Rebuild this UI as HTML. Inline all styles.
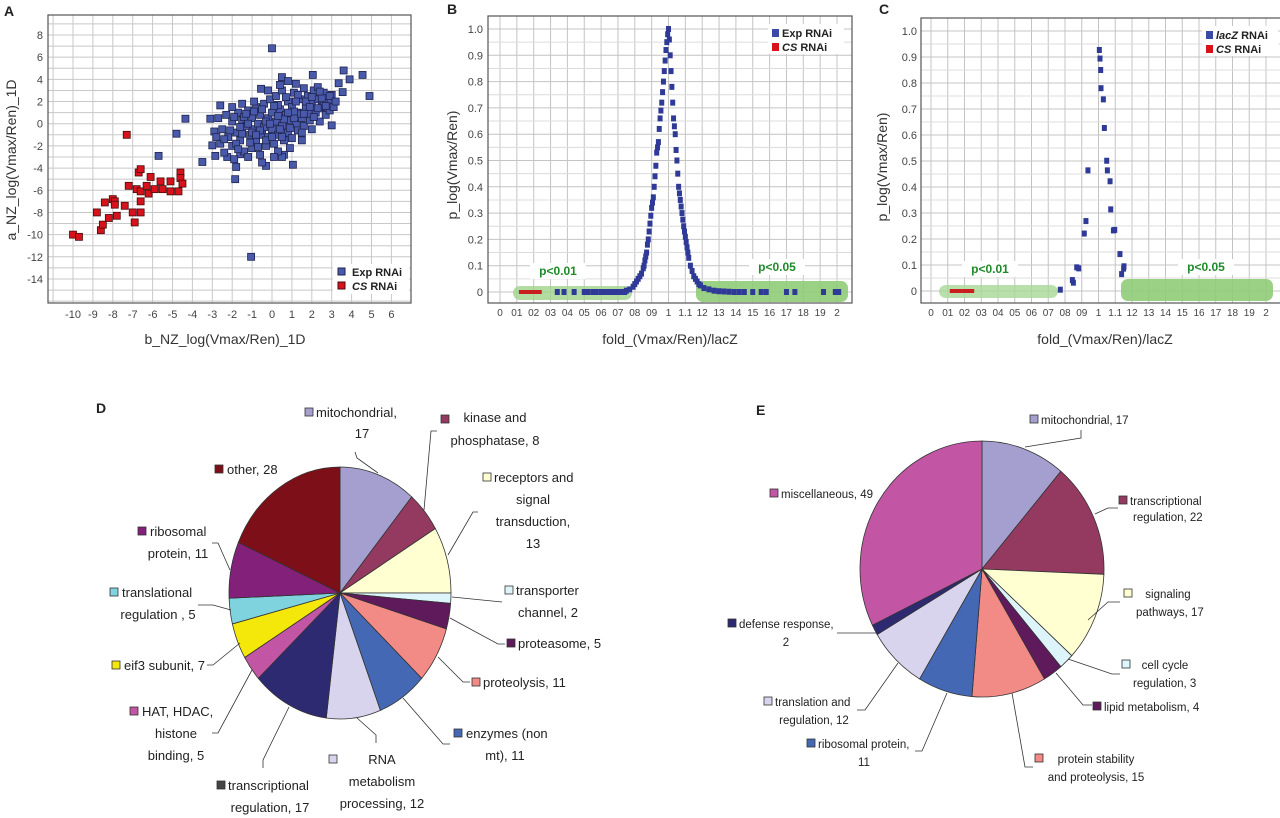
<!DOCTYPE html>
<html><head><meta charset="utf-8"><style>
html,body{margin:0;padding:0;background:#fff;}
svg{display:block;font-family:"Liberation Sans",Arial,sans-serif;}
.tk{font-size:11px;fill:#444;}
.tks{font-size:10px;fill:#444;}
.ttl{font-size:14px;fill:#333;}
.pl{font-size:14px;font-weight:bold;fill:#222;}
.lb{font-size:13px;fill:#222;}
.lbe{font-size:11.5px;fill:#222;}
.lg{font-size:11px;font-weight:bold;fill:#222;}
</style></head><body>
<svg id="fig" width="1280" height="818" viewBox="0 0 1280 818">
<g id="gA"></g>
<g id="gB"></g>
<g id="gC"></g>
<g id="gD"></g>
<g id="gE"></g>
</svg>
<script>
// ---------- Panel A data ----------
const aRedX=[-10,-9.7,-8.8,-8.6,-8.5,-8.4,-8.2,-8.0,-7.9,-7.9,-7.8,-7.4,-7.3,-7.2,-7.0,-6.9,-6.8,-6.7,-6.6,-6.6,-6.6,-6.6,-6.3,-6.2,-6.1,-5.9,-5.6,-5.5,-5.1,-5.1,-4.7,-4.6,-4.6,-4.5];
const aRedY=[-10,-10.2,-8,-9.6,-9.1,-7.1,-8.5,-6.8,-7.0,-7.3,-8.3,-7.4,-1.0,-5.6,-8.0,-8.9,-5.9,-4.4,-4.1,-6.1,-8.0,-7.0,-5.6,-6.3,-4.8,-5.9,-5.2,-5.9,-5.2,-6.1,-6.1,-4.4,-4.9,-5.4];
const aBluePts=[[0.0,6.8],[-1.05,-12],[-4.35,0.45],[-4.8,-0.9],[-5.7,-2.9],[-3.5,-3.45],[-1.85,-5.0],[-1.8,-3.9],[1.05,-3.7],[0.6,-2.8],[0.5,-3.0],[-0.3,-3.8],[4.9,2.5],[4.55,4.4],[3.6,4.8],[3.9,4.0],[3.35,3.65],[3.55,2.85],[3.0,-0.15],[2.05,4.4],[0.5,4.2],[0.8,3.85],[-0.55,3.15],[-3.1,0.45],[-2.6,1.65],[-2.85,-2.9],[-3.0,-1.95],[-2.25,-3.0],[-1.6,-2.75],
[-2.5,-0.5],[-2.3,0.8],[-2.2,-1.2],[-2.0,-2.0],[-2.0,0.2],[-1.8,-0.8],[-1.7,1.0],[-1.6,-1.5],[-1.5,0.3],[-1.4,-2.5],[-1.3,-0.2],[-1.2,1.2],[-1.1,-1.0],[-1.0,0.5],[-1.0,-2.2],[-0.9,-0.5],[-0.8,1.5],[-0.8,-1.5],[-0.7,0.0],[-0.6,-2.8],[-0.6,0.8],[-0.5,-1.0],[-0.4,1.8],[-0.4,-0.3],[-0.3,-2.0],[-0.2,0.5],[-0.2,-1.2],[-0.1,2.2],[0.0,-0.5],[0.0,1.0],[0.1,-1.8],[0.2,0.2],[0.2,2.5],[0.3,-1.0],[0.4,1.3],[0.5,-0.2],[0.5,3.0],[0.6,-1.5],[0.7,0.8],[0.8,2.0],[0.8,-0.8],[0.9,0.3],[1.0,1.5],[1.0,-1.3],[1.1,2.8],[1.2,0.0],[1.3,1.0],[1.3,-0.6],[1.4,2.2],[1.5,0.5],[1.6,3.2],[1.6,-0.2],[1.7,1.4],[1.8,2.5],[1.9,0.3],[2.0,1.8],[2.0,-0.5],[2.1,3.0],[2.2,1.0],[2.3,2.2],[2.4,0.2],[2.5,1.5],[2.6,2.8],[2.7,0.8],[2.8,2.0],[2.9,1.2],[3.0,2.6],[3.1,1.5],[-2.6,-1.8],[-2.4,-2.6],[-2.7,0.5],[-1.9,-3.2],[-1.2,-3.0],[-0.5,-3.5],[0.3,-2.5],[0.9,-2.2],[1.5,-1.5],[-1.5,1.8],[-0.9,2.0],[-0.2,3.0],[0.4,3.5],[1.2,3.6],[-2.0,1.5],[2.3,3.3],[-1.0,-0.8],[-0.3,0.2],[0.6,0.4],[1.4,0.9],[-1.8,-1.8],[0.1,-3.0],[-2.9,-0.7],[-2.8,-1.2],[1.8,0.9],[2.6,1.9],[-0.6,-0.6],[0.3,1.7],[-1.4,0.6],[1.1,0.5],
[-2.4,-1.4],[-2.1,-0.6],[-1.9,0.6],[-1.7,-2.3],[-1.5,-0.9],[-1.3,0.9],[-1.1,-1.7],[-0.9,1.1],[-0.7,-2.1],[-0.5,1.3],[-0.3,-1.5],[-0.1,0.0],[0.1,1.6],[0.3,0.7],[0.5,-1.2],[0.7,2.4],[0.9,-0.4],[1.1,1.1],[1.3,2.6],[1.5,-0.8],[1.7,2.0],[1.9,1.5],[2.1,0.6],[2.3,1.4],[2.5,2.3],[2.7,1.6],[2.9,2.5],[3.2,2.0],[-1.6,-0.3],[-0.8,-1.0],[0.0,-1.2],[0.8,1.0],[1.6,0.9],[2.4,2.9],[-1.2,0.0],[0.4,-0.5],[1.2,2.0],[2.0,2.4]];
const aXTicks=[-10,-9,-8,-7,-6,-5,-4,-3,-2,-1,0,1,2,3,4,5,6];
const aYTicks=[8,6,4,2,0,-2,-4,-6,-8,-10,-12,-14];
// ---------- Panel B data ----------
const bBluePts=[[0.75,0.005],[0.77,0.01],[0.79,0.02],[0.8,0.03],[0.81,0.04],[0.82,0.05],[0.83,0.06],[0.84,0.07],[0.85,0.09],[0.855,0.1],[0.86,0.12],[0.865,0.135],[0.87,0.15],[0.875,0.18],[0.88,0.2],[0.885,0.23],[0.89,0.26],[0.895,0.29],[0.9,0.32],[0.905,0.34],[0.91,0.36],[0.915,0.4],[0.92,0.44],[0.925,0.48],[0.93,0.53],[0.935,0.55],[0.94,0.57],[0.945,0.62],[0.95,0.66],[0.955,0.69],[0.96,0.72],[0.965,0.76],[0.97,0.8],[0.975,0.84],[0.98,0.88],[0.985,0.92],[0.99,0.95],[0.995,0.98],[1.0,1.0],[1.005,0.96],[1.01,0.9],[1.015,0.84],[1.02,0.78],[1.025,0.72],[1.03,0.66],[1.035,0.63],[1.04,0.6],[1.045,0.54],[1.05,0.5],[1.055,0.45],[1.06,0.4],[1.065,0.375],[1.07,0.35],[1.075,0.325],[1.08,0.3],[1.085,0.275],[1.09,0.25],[1.095,0.23],[1.1,0.21],[1.105,0.19],[1.11,0.17],[1.115,0.15],[1.12,0.13],[1.13,0.1],[1.14,0.08],[1.15,0.06],[1.16,0.05],[1.17,0.04],[1.18,0.03],[1.19,0.025],[1.21,0.015],[1.24,0.01],[1.27,0.005],[1.3,0.003],[1.33,0.002],[1.36,0.001],[1.39,0],[1.42,0],[1.45,0],[1.5,0],[1.55,0],[1.58,0],[1.7,0],[1.75,0],[1.92,0],[1.99,0],[2.01,0],[0.34,0],[0.38,0],[0.44,0],[0.5,0],[0.52,0],[0.55,0],[0.57,0],[0.6,0],[0.62,0],[0.64,0],[0.66,0],[0.68,0],[0.7,0],[0.72,0],[0.74,0]];
const bRedX=[0.13,0.15,0.17,0.19,0.21,0.23];
// ---------- Panel C data ----------
const cBluePts=[[1.005,0.927],[1.009,0.894],[1.013,0.85],[1.015,0.78],[1.029,0.737],[1.035,0.627],[1.049,0.501],[1.053,0.464],[1.069,0.422],[1.073,0.314],[1.097,0.235],[1.089,0.233],[1.128,0.142],[1.150,0.086],[1.152,0.095],[1.138,0.065],[0.937,0.464],[0.925,0.269],[0.915,0.221],[0.870,0.091],[0.882,0.087],[0.844,0.042],[0.850,0.032],[0.772,0.005]];
const cRedX=[0.13,0.15,0.18,0.2,0.22,0.24];
const pYTicks=[1.0,0.9,0.8,0.7,0.6,0.5,0.4,0.3,0.2,0.1,0];
const pYLabels=["1.0","0.9","0.8","0.7","0.6","0.5","0.4","0.3","0.2","0.1","0"];
const pXTicks=[0,0.1,0.2,0.3,0.4,0.5,0.6,0.7,0.8,0.9,1,1.1,1.2,1.3,1.4,1.5,1.6,1.7,1.8,1.9,2];
const pXLabels=["0","01","02","03","04","05","06","07","08","09","1","1.1","12","13","14","15","16","17","18","19","2"];
// ---------- Panel D data ----------
const dNames=["mitochondrial","kinase and phosphatase","receptors and signal transduction","transporter channel","proteasome","proteolysis","enzymes (non mt)","RNA metabolism processing","transcriptional regulation","HAT, HDAC, histone binding","eif3 subunit","translational regulation","ribosomal protein","other"];
const dValues=[17,8,13,2,5,11,11,12,17,5,7,5,11,28];
const dColors=["#a59fcf","#943a60","#ffffd2","#ddf5fa","#5e1a5a","#f28a85","#4468b3","#d8d4ee","#2d2a72","#c256a4","#f4e70a","#7fd3df","#82207a","#7c0f18"];
// ---------- Panel E data ----------
const eNames=["mitochondrial","transcriptional regulation","signaling pathways","cell cycle regulation","lipid metabolism","protein stability and proteolysis","ribosomal protein","translation and regulation","defense response","miscellaneous"];
const eValues=[17,22,17,3,4,15,11,12,2,49];
const eColors=["#a59fcf","#943a60","#ffffd2","#ddf5fa","#5e1a5a","#f28a85","#4468b3","#d8d4ee","#2d2a72","#c256a4"];

const NS="http://www.w3.org/2000/svg";
function mk(parent,tag,attrs,txt){const e=document.createElementNS(NS,tag);for(const k in attrs)e.setAttribute(k,attrs[k]);if(txt!==undefined)e.textContent=txt;parent.appendChild(e);return e;}

// ===== Panel A =====
(function(){
const g=document.getElementById('gA');
const X0=48,X1=411,Y0=15,Y1=303;
const xA=v=>73+(v+10)*19.9, yA=v=>35+(8-v)*11.09;
let r=mk(g,'rect',{x:X0,y:Y0,width:X1-X0,height:Y1-Y0,fill:'#fff'});

for(let v=-11;v<=6;v++){const l=mk(g,'line',{x1:xA(v),x2:xA(v),y1:Y0,y2:Y1,stroke:'#c8c8c8'});}
for(let v=-16;v<=9;v++){const y=yA(v);if(y<Y0||y>Y1)continue;const l=mk(g,'line',{x1:X0,x2:X1,y1:y,y2:y,stroke:'#c8c8c8'});}
aXTicks.forEach(v=>{const t=mk(g,'text',{x:xA(v),y:318,class:'tk','text-anchor':'middle'},String(v));});
aYTicks.forEach(v=>{const t=mk(g,'text',{x:43,y:yA(v)+4,class:'tk','text-anchor':'end'},String(v));});
aBluePts.forEach(p=>{const m=mk(g,'rect',{x:xA(p[0])-3.5,y:yA(p[1])-3.5,width:7,height:7,fill:'#4a5aab',stroke:'#1e2350','stroke-width':0.8});});
aRedX.forEach((x,i)=>{const m=mk(g,'rect',{x:xA(x)-3.5,y:yA(aRedY[i])-3.5,width:7,height:7,fill:'#d8121c',stroke:'#4a0a0a','stroke-width':0.8});});
r=mk(g,'rect',{x:X0,y:Y0,width:X1-X0,height:Y1-Y0,fill:'none',stroke:'#555','stroke-width':1.2});

r=mk(g,'rect',{x:333,y:264,width:76,height:30,fill:'#fff'});
r=mk(g,'rect',{x:338,y:268,width:7,height:7,fill:'#4a5aab',stroke:'#1e2350'});
let t=mk(g,'text',{x:352,y:276,class:'lg'},'Exp RNAi');
r=mk(g,'rect',{x:338,y:282,width:7,height:7,fill:'#d8121c',stroke:'#4a0a0a'});
t=mk(g,'text',{x:352,y:290,class:'lg'});t.innerHTML='<tspan font-style="italic">CS</tspan> RNAi';
t=mk(g,'text',{x:225,y:344,class:'ttl','text-anchor':'middle'},'b_NZ_log(Vmax/Ren)_1D');
t=mk(g,'text',{x:0,y:0,class:'ttl','text-anchor':'middle',transform:'translate(16,160) rotate(-90)'},'a_NZ_log(Vmax/Ren)_1D');
t=mk(g,'text',{x:4,y:16,class:'pl'},'A');
})();

// ===== Panels B & C =====
function volcano(gid,X0,X1,Y0,Y1,x0,x2,y1,y0,pts,redX,legendX,legName,legItalic,bands,pLabels,letter,letterX,titleX,ytX,ytY,ylabX){
const g=document.getElementById(gid);
const xs=v=>x0+v*(x2-x0)/2, ys=v=>y0-v*(y0-y1);
let r=mk(g,'rect',{x:X0,y:Y0,width:X1-X0,height:Y1-Y0,fill:'#fff'});
for(let i=0;i<=20;i++){const x=xs(i/10);const l=mk(g,'line',{x1:x,x2:x,y1:Y0,y2:Y1,stroke:'#c4c4c4'});}
for(let i=0;i<=21;i++){const y=ys(i*0.05);if(y<Y0)continue;const l=mk(g,'line',{x1:X0,x2:X1,y1:y,y2:y,stroke:i%2?'#dcdcdc':'#c4c4c4'});}
bands.forEach(b=>{const m=mk(g,'rect',{x:b[0],y:b[1],width:b[2]-b[0],height:b[3]-b[1],rx:7,fill:b[4],opacity:b[5]});});
pLabels.forEach(p=>{const bg=mk(g,'rect',{x:p[0]-28,y:p[1]-12,width:56,height:16,fill:'#fff'});const t=mk(g,'text',{x:p[0],y:p[1],'text-anchor':'middle','font-size':'12','font-weight':'bold',fill:'#1f8a2a'},p[2]);});
pXTicks.forEach((v,i)=>{const t=mk(g,'text',{x:xs(v),y:Y1+13,class:'tks','text-anchor':'middle'},pXLabels[i]);});
pYTicks.forEach((v,i)=>{const t=mk(g,'text',{x:ylabX,y:ys(v)+4,class:'tk','text-anchor':'end'},pYLabels[i]);});
pts.forEach(p=>{const m=mk(g,'rect',{x:xs(p[0])-2.5,y:ys(p[1])-3,width:5,height:6,fill:'#2e3a96'});});
redX.forEach(x=>{const m=mk(g,'rect',{x:xs(x)-3,y:ys(0)-2,width:6,height:4,fill:'#c81e1e'});});
r=mk(g,'rect',{x:X0,y:Y0,width:X1-X0,height:Y1-Y0,fill:'none',stroke:'#555','stroke-width':1.2});
r=mk(g,'rect',{x:legendX-8,y:Y0+8,width:76,height:30,fill:'#fff'});
r=mk(g,'rect',{x:legendX-4,y:Y0+13,width:7,height:8,fill:'#3a4aa8'});
let t=mk(g,'text',{x:legendX+6,y:Y0+21,class:'lg'});t.innerHTML=legItalic?'<tspan font-style="italic">'+legName+'</tspan> RNAi':legName+' RNAi';
r=mk(g,'rect',{x:legendX-4,y:Y0+27,width:7,height:8,fill:'#d8121c'});
t=mk(g,'text',{x:legendX+6,y:Y0+35,class:'lg'});t.innerHTML='<tspan font-style="italic">CS</tspan> RNAi';
t=mk(g,'text',{x:titleX,y:344,class:'ttl','text-anchor':'middle'},'fold_(Vmax/Ren)/lacZ');
t=mk(g,'text',{x:0,y:0,class:'ttl','text-anchor':'middle',transform:'translate('+ytX+','+ytY+') rotate(-90)'},'p_log(Vmax/Ren)');
t=mk(g,'text',{x:letterX,y:14,class:'pl'},letter);
}
volcano('gB',488,852,16,303,500,837,29,292,bBluePts,bRedX,776,'Exp',false,
 [[513,286,632,300,'#9fd38a',0.8],[696,281,848,302,'#8fcc78',0.9]],[[558,275,'p<0.01'],[777,271,'p<0.05']],'B',447,670,457,165,483);
volcano('gC',921,1281,18,303,931,1266,31,291,cBluePts,cRedX,1210,'lacZ',true,
 [[939,285,1058,298,'#a8d895',0.8],[1121,279,1273,301,'#8fcc78',0.9]],[[990,273,'p<0.01'],[1206,271,'p<0.05']],'C',879,1105,887,167,917);

// ===== Pies =====
function pie(gid,cx,cy,rx,ry,vals,cols,names){
const g=document.getElementById(gid);
const tot=vals.reduce((a,b)=>a+b,0);let a=0;
vals.forEach((v,i)=>{const a0=a,a1=a+v/tot*2*Math.PI;a=a1;
const x0=cx+rx*Math.sin(a0),y0=cy-ry*Math.cos(a0),x1=cx+rx*Math.sin(a1),y1=cy-ry*Math.cos(a1);
const large=(a1-a0)>Math.PI?1:0;
const p=mk(g,'path',{d:`M${cx},${cy}L${x0},${y0}A${rx},${ry} 0 ${large} 1 ${x1},${y1}Z`,fill:cols[i],stroke:'#333','stroke-width':0.8});

});
}
pie('gD',340,593,111,126,dValues,dColors,dNames);
pie('gE',982,569,122,128,eValues,eColors,eNames);

function labels(gid,items,cls){
const g=document.getElementById(gid);
items.forEach(it=>{
 const ln=mk(g,'polyline',{points:it.line,fill:'none',stroke:'#333','stroke-width':0.8});
 const sq=mk(g,'rect',{x:it.sq[0]-4,y:it.sq[1]-4,width:8,height:8,fill:it.c,stroke:'#333','stroke-width':0.8});
 it.t.forEach(tl=>{const t=mk(g,'text',{x:tl[0],y:tl[1],class:cls,'text-anchor':tl[3]||'start'},tl[2]);});
});
}
labels('gD',[
{c:dColors[0],sq:[309,412],line:'355,452 357,458 378,473',t:[[316,417,'mitochondrial,'],[362,438,'17','middle']]},
{c:dColors[1],sq:[445,419],line:'437,431 431,431 424,510',t:[[495,422,'kinase and','middle'],[495,445,'phosphatase, 8','middle']]},
{c:dColors[2],sq:[487,477],line:'478,512 473,512 448,555',t:[[494,482,'receptors and'],[533,504,'signal','middle'],[533,526,'transduction,','middle'],[533,548,'13','middle']]},
{c:dColors[3],sq:[509,590],line:'452,597 502,602',t:[[516,595,'transporter'],[548,617,'channel, 2','middle']]},
{c:dColors[4],sq:[511,643],line:'450,618 498,644 505,644',t:[[518,648,'proteasome, 5']]},
{c:dColors[5],sq:[476,682],line:'438,657 463,682 470,682',t:[[483,687,'proteolysis, 11']]},
{c:dColors[6],sq:[458,733],line:'403,698 443,744 450,744',t:[[466,738,'enzymes (non'],[505,760,'mt), 11','middle']]},
{c:dColors[7],sq:[333,759],line:'357,718 376,735 376,743',t:[[382,764,'RNA','middle'],[382,786,'metabolism','middle'],[382,808,'processing, 12','middle']]},
{c:'#444',sq:[221,785],line:'289,707 263,760 263,768',t:[[228,790,'transcriptional'],[270,812,'regulation, 17','middle']]},
{c:dColors[9],sq:[134,711],line:'252,670 218,733 212,733',t:[[142,716,'HAT, HDAC,'],[176,738,'histone','middle'],[176,760,'binding, 5','middle']]},
{c:dColors[10],sq:[116,665],line:'240,643 213,665 207,665',t:[[124,670,'eif3 subunit, 7']]},
{c:dColors[11],sq:[114,592],line:'231,610 213,605 198,605',t:[[122,597,'translational'],[158,619,'regulation , 5','middle']]},
{c:dColors[12],sq:[142,531],line:'230,570 218,543 212,543',t:[[150,536,'ribosomal'],[178,558,'protein, 11','middle']]},
{c:dColors[13],sq:[219,469],line:'',t:[[227,474,'other, 28']]}
],'lb');
labels('gE',[
{c:eColors[0],sq:[1034,419],line:'1025,447 1081,438 1081,430',t:[[1041,424,'mitochondrial, 17']]},
{c:eColors[1],sq:[1123,500],line:'1095,514 1108,508 1118,508',t:[[1130,505,'transcriptional'],[1133,521,'regulation, 22']]},
{c:eColors[2],sq:[1128,593],line:'1088,620 1108,602 1120,602',t:[[1168,598,'signaling','middle'],[1136,616,'pathways, 17']]},
{c:eColors[3],sq:[1126,664],line:'1068,659 1112,674 1120,674',t:[[1165,669,'cell cycle','middle'],[1133,687,'regulation, 3']]},
{c:eColors[4],sq:[1097,706],line:'1056,673 1083,705 1092,705',t:[[1104,711,'lipid metabolism, 4']]},
{c:eColors[5],sq:[1039,758],line:'1012,693 1025,767 1033,767',t:[[1096,763,'protein stability','middle'],[1096,781,'and proteolysis, 15','middle']]},
{c:eColors[6],sq:[811,743],line:'947,693 922,751 915,751',t:[[818,748,'ribosomal protein,'],[864,766,'11','middle']]},
{c:eColors[7],sq:[768,701],line:'898,663 865,710 857,710',t:[[775,706,'translation and'],[814,724,'regulation, 12','middle']]},
{c:eColors[8],sq:[732,623],line:'876,633 837,633',t:[[739,628,'defense response,'],[786,646,'2','middle']]},
{c:eColors[9],sq:[774,493],line:'',t:[[781,498,'miscellaneous, 49']]}
],'lbe');
(function(){
let t=mk(document.getElementById('gD'),'text',{x:96,y:413,class:'pl'},'D');
t=mk(document.getElementById('gE'),'text',{x:756,y:415,class:'pl'},'E');
})();
</script>
</body></html>
